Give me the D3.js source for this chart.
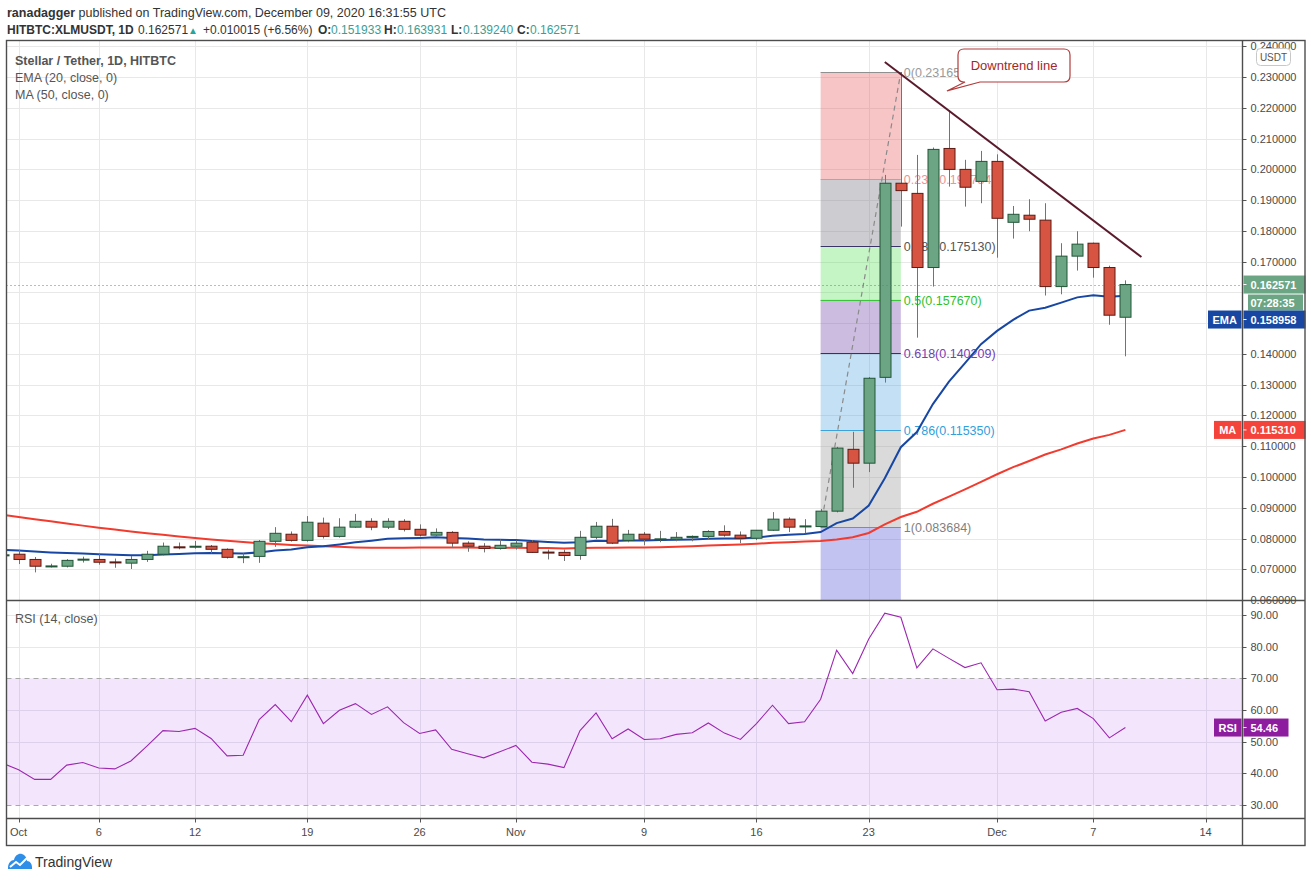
<!DOCTYPE html>
<html>
<head>
<meta charset="utf-8">
<script src="https://cdnjs.cloudflare.com/ajax/libs/d3/7.8.5/d3.min.js"></script>
<style>
body { margin: 0; background: #fff; }
svg { display: block; font-family: "Liberation Sans", Arial, sans-serif; }
</style>
</head>
<body>
<div class="chart"></div>
<script>
// daily candles, Sep 30 .. Dec 9 2020
const firstDay = new Date(Date.UTC(2020, 8, 30));
const days = d3.utcDay.range(firstDay, new Date(Date.UTC(2020, 11, 10)));

const open = [
  0.0744, 0.0749, 0.0732, 0.0709, 0.0710, 0.0731, 0.0732, 0.0724, 0.0720, 0.0732,
  0.0749, 0.0773, 0.0772, 0.0775, 0.0765, 0.0739, 0.0742, 0.0791, 0.0814, 0.0794,
  0.0850, 0.0807, 0.0837, 0.0856, 0.0837, 0.0856, 0.0830, 0.0811, 0.0820, 0.0785,
  0.0775, 0.0768, 0.0775, 0.0788, 0.0756, 0.0755, 0.0745, 0.0804, 0.0840, 0.0794,
  0.0814, 0.0797, 0.0798, 0.0804, 0.0807, 0.0823, 0.0811, 0.0801, 0.0827, 0.0863,
  0.0838, 0.0839, 0.0889, 0.1090, 0.1045, 0.1324, 0.1955, 0.1922, 0.1681, 0.2068,
  0.2000, 0.1961, 0.2026, 0.1828, 0.1851, 0.1835, 0.1619, 0.1718, 0.1760, 0.1681,
  0.151933
];
const high = [
  0.0760, 0.0763, 0.0740, 0.0718, 0.0733, 0.0741, 0.0752, 0.0735, 0.0743, 0.0760,
  0.0787, 0.0787, 0.0792, 0.0779, 0.0768, 0.0752, 0.0795, 0.0837, 0.0823, 0.0873,
  0.0868, 0.0866, 0.0880, 0.0866, 0.0866, 0.0863, 0.0846, 0.0833, 0.0824, 0.0791,
  0.0785, 0.0797, 0.0794, 0.0795, 0.0764, 0.0764, 0.0825, 0.0854, 0.0864, 0.0828,
  0.0821, 0.0825, 0.0821, 0.0810, 0.0827, 0.0843, 0.0823, 0.0827, 0.0886, 0.0869,
  0.0863, 0.0896, 0.1098, 0.1147, 0.1325, 0.1982, 0.231656, 0.2047, 0.2071, 0.2193,
  0.2031, 0.2060, 0.2049, 0.1881, 0.1903, 0.1890, 0.1760, 0.1799, 0.1762, 0.1687,
  0.163931
];
const low = [
  0.0735, 0.0717, 0.0690, 0.0706, 0.0706, 0.0722, 0.0715, 0.0705, 0.0701, 0.0724,
  0.0745, 0.0765, 0.0767, 0.0752, 0.0735, 0.0720, 0.0721, 0.0773, 0.0790, 0.0790,
  0.0800, 0.0803, 0.0835, 0.0827, 0.0831, 0.0823, 0.0807, 0.0809, 0.0773, 0.0757,
  0.0755, 0.0764, 0.0764, 0.0753, 0.0732, 0.0727, 0.0731, 0.0798, 0.0782, 0.0788,
  0.0778, 0.0788, 0.0791, 0.0791, 0.0798, 0.0806, 0.0785, 0.0795, 0.0825, 0.0821,
  0.0817, 0.083684, 0.0885, 0.0965, 0.1016, 0.1307, 0.1814, 0.1453, 0.1619, 0.1944,
  0.1879, 0.1890, 0.1713, 0.1775, 0.1799, 0.1590, 0.1594, 0.1671, 0.1648, 0.1495,
  0.139240
];
const close = [
  0.0747, 0.0732, 0.0710, 0.0711, 0.0729, 0.0733, 0.0723, 0.0722, 0.0732, 0.0749,
  0.0775, 0.0771, 0.0775, 0.0765, 0.0739, 0.0741, 0.0791, 0.0817, 0.0794, 0.0853,
  0.0807, 0.0837, 0.0856, 0.0837, 0.0856, 0.0830, 0.0811, 0.0820, 0.0785, 0.0775,
  0.0768, 0.0778, 0.0785, 0.0755, 0.0754, 0.0745, 0.0804, 0.0840, 0.0785, 0.0814,
  0.0798, 0.0799, 0.0804, 0.0807, 0.0823, 0.0811, 0.0801, 0.0827, 0.0863, 0.0837,
  0.0841, 0.0889, 0.1094, 0.1045, 0.1321, 0.1955, 0.1931, 0.1681, 0.2065, 0.2000,
  0.1942, 0.2026, 0.1841, 0.1854, 0.1838, 0.1619, 0.1718, 0.1757, 0.1681, 0.1526,
  0.162571
];
const ema20 = [
  0.0763, 0.0761, 0.0758, 0.0755, 0.0753, 0.0751, 0.0749, 0.0747, 0.0746, 0.0746,
  0.0748, 0.0750, 0.0752, 0.0753, 0.0752, 0.0751, 0.0755, 0.0761, 0.0764, 0.0772,
  0.0775, 0.0781, 0.0788, 0.0793, 0.0799, 0.0801, 0.0802, 0.0804, 0.0802, 0.0800,
  0.0797, 0.0796, 0.0795, 0.0792, 0.0789, 0.0786, 0.0788, 0.0793, 0.0792, 0.0794,
  0.0794, 0.0795, 0.0796, 0.0797, 0.0799, 0.0800, 0.0800, 0.0803, 0.0809, 0.0812,
  0.0815, 0.0821, 0.0850, 0.0865, 0.0907, 0.0996, 0.1097, 0.1146, 0.1237, 0.1310,
  0.1370, 0.1432, 0.1475, 0.1511, 0.1541, 0.1550, 0.1567, 0.1584, 0.1591, 0.1586,
  0.158958
];
const ma50 = [
  0.0877, 0.0870, 0.0863, 0.0856, 0.0849, 0.0842, 0.0835, 0.0829, 0.0823, 0.0817,
  0.0812, 0.0807, 0.0802, 0.0797, 0.0793, 0.0789, 0.0785, 0.0782, 0.0779, 0.0777,
  0.0775, 0.0773, 0.0771, 0.0770, 0.0770, 0.0770, 0.0771, 0.0771, 0.0771, 0.0771,
  0.0770, 0.0770, 0.0770, 0.0769, 0.0769, 0.0768, 0.0769, 0.0770, 0.0770, 0.0771,
  0.0771, 0.0772, 0.0773, 0.0775, 0.0777, 0.0779, 0.0781, 0.0783, 0.0786, 0.0788,
  0.0790, 0.0792, 0.0797, 0.0804, 0.0818, 0.0846, 0.0870, 0.0887, 0.0913, 0.0936,
  0.0960, 0.0984, 0.1009, 0.1032, 0.1052, 0.1073, 0.1090, 0.1109, 0.1125, 0.1137,
  0.115310
];
const rsi14 = [
  43.2, 41.1, 38.1, 38.1, 42.6, 43.4, 41.7, 41.4, 43.9, 48.6,
  53.5, 53.2, 54.2, 51.0, 45.5, 45.7, 57.0, 61.7, 56.3, 64.7,
  55.7, 59.9, 62.0, 58.6, 61.0, 56.0, 52.6, 53.7, 47.6, 46.2,
  44.9, 46.8, 48.8, 43.5, 42.9, 41.8, 53.5, 59.1, 50.9, 54.0,
  50.7, 50.9, 52.3, 52.8, 55.9, 52.7, 50.7, 55.7, 61.5, 55.7,
  56.3, 63.4, 78.9, 71.5, 82.4, 90.6, 89.3, 73.3, 79.3, 76.3,
  73.4, 74.9, 66.4, 66.6, 65.8, 56.5, 59.3, 60.5, 57.3, 51.2,
  54.46
];

const timeTicks = ["2020-10-01", "2020-10-06", "2020-10-12", "2020-10-19", "2020-10-26", "2020-11-01",
  "2020-11-09", "2020-11-16", "2020-11-23", "2020-12-01", "2020-12-07", "2020-12-14"];
const timeLabels = ["Oct", "6", "12", "19", "26", "Nov", "9", "16", "23", "Dec", "7", "14"];
const priceTicks = [0.24, 0.23, 0.22, 0.21, 0.20, 0.19, 0.18, 0.17, 0.14, 0.13, 0.12, 0.11, 0.10, 0.09, 0.08, 0.07, 0.06];
const priceGrid = [0.24, 0.23, 0.22, 0.21, 0.20, 0.19, 0.18, 0.17, 0.16, 0.15, 0.14, 0.13, 0.12, 0.11, 0.10, 0.09, 0.08, 0.07];
const rsiTicks = [90, 80, 70, 60, 50, 40, 30];

const fibLevels = [0, 0.236, 0.382, 0.5, 0.618, 0.786, 1];
const fibHigh = 0.2316558, fibLow = 0.0836838;
const fibStart = "2020-11-20", fibEnd = "2020-11-25";
const trendLine = [["2020-11-24", 0.2349], ["2020-12-10", 0.1715]];

// header line 2 pieces: [text, x, bold, colour]
const quote = [
  ["HITBTC:XLMUSDT, 1D", 7, true, "#333"], ["0.162571", 138, false, "#333"], ["▲", 188, false, "#26a69a"],
  ["+0.010015 (+6.56%)", 203, false, "#333"],
  ["O:", 318, true, "#333"], ["0.151933", 331, false, "#3a9e94"],
  ["H:", 384, true, "#333"], ["0.163931", 397, false, "#3a9e94"],
  ["L:", 451, true, "#333"], ["0.139240", 463, false, "#3a9e94"],
  ["C:", 517, true, "#333"], ["0.162571", 530, false, "#3a9e94"]
];

const W = 1311, H = 881;
const left = 6.5, right = 1305, axisX = 1242.5;
const paneTop = 40.5, paneMid = 600.5, paneBot = 818.5, frameBot = 845.5;

const svg = d3.select(".chart").append("svg").attr("width", W).attr("height", H);
const parse = d3.utcParse("%Y-%m-%d");

const x = d3.scaleUtc().domain([parse("2020-10-01"), parse("2020-12-14")]).range([18.6, 1205.6]);
const y = d3.scaleLinear().domain([0.07, 0.23]).range([569.3, 77.1]);
const yR = d3.scaleLinear().domain([30, 90]).range([805, 615]);

const data = days.map((d, i) => ({
  date: d, o: open[i], h: high[i], l: low[i], c: close[i], ema: ema20[i], ma: ma50[i], rsi: rsi14[i]
}));

const defs = svg.append("defs");
defs.append("clipPath").attr("id", "clipP").append("rect")
  .attr("x", left).attr("y", paneTop).attr("width", axisX - left).attr("height", paneMid - paneTop);
defs.append("clipPath").attr("id", "clipR").append("rect")
  .attr("x", left).attr("y", paneMid).attr("width", axisX - left).attr("height", paneBot - paneMid);

// header
const head = svg.append("g").attr("fill", "#333");
const t1 = head.append("text").attr("x", 7).attr("y", 17).attr("font-size", 12.5);
t1.append("tspan").attr("font-weight", "bold").text("ranadagger");
t1.append("tspan").text(" published on TradingView.com, December 09, 2020 16:31:55 UTC");
head.selectAll(".q").data(quote).join("text")
  .attr("x", d => d[1]).attr("y", 34).attr("font-size", d => (d[0] === "▲" ? 10 : 12))
  .attr("font-weight", d => (d[2] ? "bold" : "normal")).attr("fill", d => d[3])
  .text(d => d[0]);

// grid
const grid = svg.append("g").attr("stroke", "#e8e8e8").attr("stroke-width", 1);
grid.selectAll(".gx").data(timeTicks).join("line")
  .attr("x1", d => Math.round(x(parse(d))) + 0.5).attr("x2", d => Math.round(x(parse(d))) + 0.5)
  .attr("y1", paneTop).attr("y2", paneBot);
grid.selectAll(".gy").data(priceGrid).join("line")
  .attr("x1", left).attr("x2", axisX)
  .attr("y1", d => Math.round(y(d)) + 0.5).attr("y2", d => Math.round(y(d)) + 0.5);

// RSI pane background
const rp = svg.append("g").attr("clip-path", "url(#clipR)");
rp.append("rect").attr("x", left).attr("width", axisX - left)
  .attr("y", yR(70)).attr("height", yR(30) - yR(70)).attr("fill", "#f3e6fc");
rp.selectAll(".rg").data([90, 80, 60, 50, 40]).join("line")
  .attr("x1", left).attr("x2", axisX)
  .attr("y1", d => Math.round(yR(d)) + 0.5).attr("y2", d => Math.round(yR(d)) + 0.5)
  .attr("stroke", d => (d < 70 ? "#ddd0ea" : "#e8e8e8"));
rp.selectAll(".rgx").data(timeTicks).join("line")
  .attr("x1", d => Math.round(x(parse(d))) + 0.5).attr("x2", d => Math.round(x(parse(d))) + 0.5)
  .attr("y1", yR(70)).attr("y2", yR(30)).attr("stroke", "#ddd0ea");
rp.selectAll(".rb").data([70, 30]).join("line")
  .attr("x1", left).attr("x2", axisX)
  .attr("y1", d => Math.round(yR(d)) + 0.5).attr("y2", d => Math.round(yR(d)) + 0.5)
  .attr("stroke", "#a8a8a8").attr("stroke-dasharray", "5,4");
rp.append("path").datum(data)
  .attr("fill", "none").attr("stroke", "#9c27b0").attr("stroke-width", 1.1)
  .attr("d", d3.line().x(d => x(d.date)).y(d => yR(d.rsi)));

// price pane
const pp = svg.append("g").attr("clip-path", "url(#clipP)");

// fib retracement
const fx0 = x(parse(fibStart)), fx1 = x(parse(fibEnd));
const fibPrice = lv => fibHigh - lv * (fibHigh - fibLow);
const fibFill = ["rgba(232,90,90,0.35)", "rgba(130,130,140,0.40)", "rgba(76,220,76,0.32)",
  "rgba(120,80,170,0.38)", "rgba(70,160,220,0.32)", "rgba(150,150,150,0.35)", "rgba(90,90,220,0.36)"];
const fibLine = ["#909090", "#ef8a8a", "#3a3566", "#3cc43c", "#3b2a85", "#3ba3d9", "#8a8a8a"];
const fibText = ["#9a9a9a", "#f09494", "#555", "#2fc12f", "#7440b5", "#2f9fde", "#7f7f7f"];
fibLevels.forEach((lv, i) => {
  const top = y(fibPrice(lv));
  const bot = i < fibLevels.length - 1 ? y(fibPrice(fibLevels[i + 1])) : paneMid;
  pp.append("rect").attr("x", fx0).attr("width", fx1 - fx0)
    .attr("y", top).attr("height", bot - top).attr("fill", fibFill[i]);
});
fibLevels.forEach((lv, i) => {
  const yy = Math.round(y(fibPrice(lv))) + 0.5;
  pp.append("line").attr("x1", fx0).attr("x2", fx1).attr("y1", yy).attr("y2", yy)
    .attr("stroke", fibLine[i]).attr("stroke-width", 1);
  pp.append("text").attr("x", fx1 + 3).attr("y", yy + 4).attr("font-size", 12.5)
    .attr("fill", fibText[i]).text(`${lv}(${fibPrice(lv).toFixed(6)})`);
});
pp.append("line")
  .attr("x1", fx0).attr("y1", y(fibLow)).attr("x2", fx1).attr("y2", y(fibHigh))
  .attr("stroke", "#8a8a8a").attr("stroke-width", 1.2).attr("stroke-dasharray", "5,4");

// moving averages
pp.append("path").datum(data).attr("fill", "none").attr("stroke", "#f23b2f").attr("stroke-width", 2)
  .attr("d", d3.line().x(d => x(d.date)).y(d => y(d.ma)));
pp.append("path").datum(data).attr("fill", "none").attr("stroke", "#1747a3").attr("stroke-width", 2)
  .attr("d", d3.line().x(d => x(d.date)).y(d => y(d.ema)));

// candles
const bw = 11;
const cg = pp.append("g");
cg.selectAll(".wick").data(data).join("line")
  .attr("x1", d => Math.round(x(d.date)) + 0.5).attr("x2", d => Math.round(x(d.date)) + 0.5)
  .attr("y1", d => y(d.h)).attr("y2", d => y(d.l))
  .attr("stroke", "#737373").attr("stroke-width", 1);
cg.selectAll(".body").data(data).join("rect")
  .attr("x", d => Math.round(x(d.date)) - bw / 2 + 0.5)
  .attr("width", bw)
  .attr("y", d => y(Math.max(d.o, d.c)))
  .attr("height", d => Math.max(1, Math.abs(y(d.o) - y(d.c))))
  .attr("fill", d => (d.c >= d.o ? "#6ba583" : "#d75442"))
  .attr("stroke", d => (d.c >= d.o ? "#225437" : "#5b1a13"))
  .attr("stroke-width", 1);

// current price dotted line
const last = data[data.length - 1];
pp.append("line").attr("x1", left).attr("x2", axisX)
  .attr("y1", Math.round(y(last.c)) + 0.5).attr("y2", Math.round(y(last.c)) + 0.5)
  .attr("stroke", "#3d9970").attr("stroke-dasharray", "1,3");

// downtrend line + callout
pp.append("line")
  .attr("x1", x(parse(trendLine[0][0]))).attr("y1", y(trendLine[0][1]))
  .attr("x2", x(parse(trendLine[1][0]))).attr("y2", y(trendLine[1][1]))
  .attr("stroke", "#5a1a2c").attr("stroke-width", 2);

const bx0 = 958, by0 = 49, bx1 = 1070, by1 = 82, r = 6;
const tipX = x(parse("2020-11-28")) - 2, tipY = y(0.2255);
const callout = `M${bx0 + r},${by0} H${bx1 - r} Q${bx1},${by0} ${bx1},${by0 + r} V${by1 - r} Q${bx1},${by1} ${bx1 - r},${by1}
  H${bx0 + 22} L${tipX},${tipY} L${bx0 + 7},${by1} H${bx0 + r} Q${bx0},${by1} ${bx0},${by1 - r} V${by0 + r} Q${bx0},${by0} ${bx0 + r},${by0} Z`;
svg.append("path").attr("d", callout).attr("fill", "#fff").attr("stroke", "#b23a3a").attr("stroke-width", 1.2);
svg.append("text").attr("x", (bx0 + bx1) / 2).attr("y", 70).attr("text-anchor", "middle")
  .attr("font-size", 13).attr("fill", "#a3282a").text("Downtrend line");

// legends
const lg = svg.append("g").attr("font-size", 12.5).attr("fill", "#555");
lg.append("text").attr("x", 15).attr("y", 65).attr("font-weight", "bold").text("Stellar / Tether, 1D, HITBTC");
lg.append("text").attr("x", 15).attr("y", 82).text("EMA (20, close, 0)");
lg.append("text").attr("x", 15).attr("y", 99).text("MA (50, close, 0)");
lg.append("text").attr("x", 15).attr("y", 623).text("RSI (14, close)");

// price axis
const pa = svg.append("g").attr("font-size", 11).attr("fill", "#4a4a4a");
pa.selectAll("line").data(priceTicks).join("line")
  .attr("x1", axisX).attr("x2", axisX + 4)
  .attr("y1", d => Math.round(y(d)) + 0.5).attr("y2", d => Math.round(y(d)) + 0.5).attr("stroke", "#555");
pa.selectAll("text").data(priceTicks).join("text")
  .attr("x", axisX + 8).attr("y", d => y(d) + 4).text(d => d.toFixed(6));

svg.append("rect").attr("x", 1256.5).attr("y", 48.5).attr("width", 34).attr("height", 17).attr("rx", 4)
  .attr("fill", "#fff").attr("stroke", "#c8c8c8");
svg.append("text").attr("x", 1273.5).attr("y", 61).attr("text-anchor", "middle")
  .attr("font-size", 10).attr("fill", "#555").text("USDT");

// RSI axis
const ra = svg.append("g").attr("font-size", 11).attr("fill", "#4a4a4a");
ra.selectAll("line").data(rsiTicks).join("line")
  .attr("x1", axisX).attr("x2", axisX + 4)
  .attr("y1", d => Math.round(yR(d)) + 0.5).attr("y2", d => Math.round(yR(d)) + 0.5).attr("stroke", "#555");
ra.selectAll("text").data(rsiTicks).join("text")
  .attr("x", axisX + 8).attr("y", d => yR(d) + 4).text(d => d.toFixed(2));

// value labels on the axes
function axisTag(val, yy, color, name, nameX, valW) {
  const g = svg.append("g");
  if (name) {
    g.append("rect").attr("x", nameX).attr("y", yy - 9).attr("width", axisX - 1 - nameX).attr("height", 18).attr("fill", color);
    g.append("text").attr("x", (nameX + axisX - 1) / 2).attr("y", yy + 4).attr("text-anchor", "middle")
      .attr("font-size", 11).attr("font-weight", "bold").attr("fill", "#fff").text(name);
  }
  g.append("rect").attr("x", axisX + 1).attr("y", yy - 9).attr("width", valW).attr("height", 18).attr("fill", color);
  g.append("line").attr("x1", axisX).attr("x2", axisX + 4).attr("y1", yy).attr("y2", yy).attr("stroke", "#fff");
  g.append("text").attr("x", axisX + 8).attr("y", yy + 4)
    .attr("font-size", 11).attr("font-weight", "bold").attr("fill", "#fff").text(val);
}
const priceY = y(last.c);
axisTag(last.c.toFixed(6), priceY, "#6ba583", null, 0, 62);
svg.append("rect").attr("x", 1248).attr("y", priceY + 10).attr("width", 55).attr("height", 16).attr("fill", "#6ba583");
svg.append("text").attr("x", axisX + 8).attr("y", priceY + 22).attr("font-size", 11).attr("font-weight", "bold")
  .attr("fill", "#fff").text("07:28:35");
// EMA tag is pushed below the countdown, as on the reference
axisTag(last.ema.toFixed(6), priceY + 35, "#1747a3", "EMA", 1208, 62);
axisTag(last.ma.toFixed(6), y(last.ma), "#f4433a", "MA", 1214, 62);
axisTag(last.rsi.toFixed(2), yR(last.rsi), "#8e1c9e", "RSI", 1214, 45);

// time axis
const ta = svg.append("g").attr("font-size", 11).attr("fill", "#4a4a4a");
ta.selectAll("line").data(timeTicks).join("line")
  .attr("x1", d => Math.round(x(parse(d))) + 0.5).attr("x2", d => Math.round(x(parse(d))) + 0.5)
  .attr("y1", paneBot).attr("y2", paneBot + 4).attr("stroke", "#555");
ta.selectAll("text").data(timeTicks).join("text")
  .attr("x", d => x(parse(d))).attr("y", 836).attr("text-anchor", "middle")
  .text((d, i) => timeLabels[i]);

// frame
const fr = svg.append("g").attr("stroke", "#4d4d4d").attr("stroke-width", 1.4).attr("fill", "none");
fr.append("rect").attr("x", left).attr("y", paneTop).attr("width", right - left).attr("height", frameBot - paneTop);
fr.append("line").attr("x1", left).attr("x2", right).attr("y1", paneMid).attr("y2", paneMid);
fr.append("line").attr("x1", left).attr("x2", right).attr("y1", paneBot).attr("y2", paneBot);
fr.append("line").attr("x1", axisX).attr("x2", axisX).attr("y1", paneTop).attr("y2", frameBot);

// footer logo
const logo = svg.append("g").attr("transform", "translate(8,852)");
logo.append("path").attr("fill", "#2e8ee8")
  .attr("d", "M0,16 C0,11 3,8 6,8 C7,3 11,1 14,2 C17,3 19,6 19,9 C22,9 24,12 24,15 L24,17 L0,17 Z");
logo.append("path").attr("fill", "none").attr("stroke", "#fff").attr("stroke-width", 2)
  .attr("d", "M2,15 L8,10 L12,13 L19,6");
svg.append("text").attr("x", 35).attr("y", 867).attr("font-size", 14).attr("fill", "#333").text("TradingView");
</script>
</body>
</html>
